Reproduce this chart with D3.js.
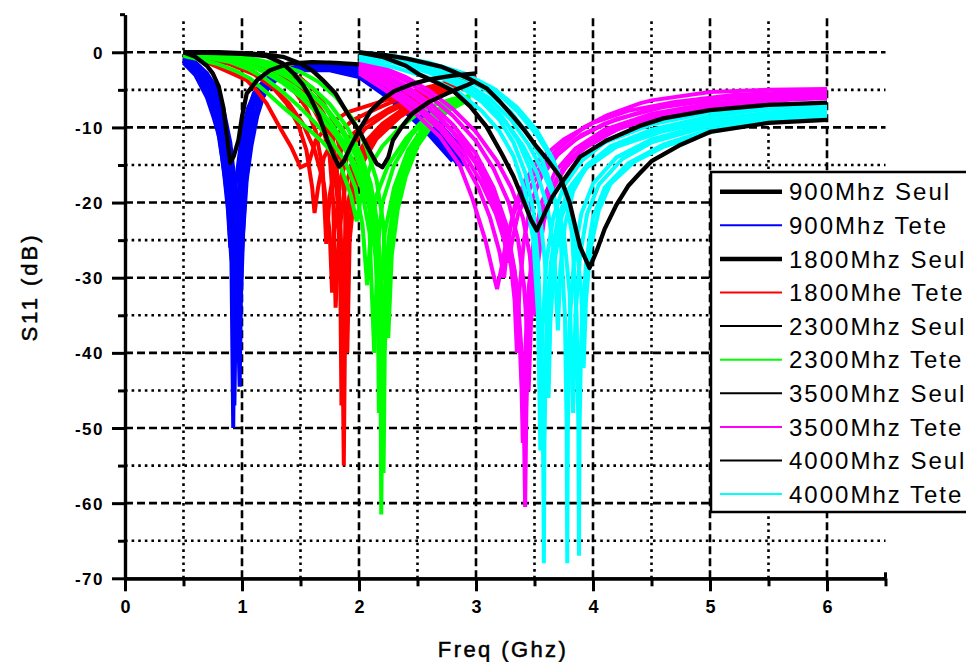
<!DOCTYPE html>
<html><head><meta charset="utf-8">
<script src="https://cdn.jsdelivr.net/npm/d3@7"></script>
<style>
html,body{margin:0;padding:0;background:#fff;}
svg{display:block;}
text{font-family:"Liberation Sans",Arial,sans-serif;fill:#000;}
</style></head>
<body><svg id="c" width="966" height="662"></svg>
<script>
// ---------------- DATA ----------------
const xTicks = [0, 1, 2, 3, 4, 5, 6];
const xMinor = [0.5, 1.5, 2.5, 3.5, 4.5, 5.5, 6.5];
const yTicks = [0, -10, -20, -30, -40, -50, -60, -70];
const yMinor = [-5, -15, -25, -35, -45, -55, -65];
const xTitle = "Freq (Ghz)";
const yTitle = "S11 (dB)";
const legendLabels = ["900Mhz Seul","900Mhz Tete","1800Mhz Seul","1800Mhe Tete","2300Mhz Seul","2300Mhz Tete","3500Mhz Seul","3500Mhz Tete","4000Mhz Seul","4000Mhz Tete"];

// "Seul" curves: [freq GHz, S11 dB]
const seul900 = [[0.5,0],[0.6,-0.6],[0.7,-1.8],[0.75,-2.8],[0.8,-4.5],[0.84,-7.3],[0.87,-11],[0.9,-14.7],[0.93,-13.8],[0.97,-11.7],[1.0,-8.6],[1.04,-5.5],[1.13,-3.7],[1.24,-2.4],[1.4,-1.5],[1.6,-1.3],[1.8,-1.4],[2.0,-1.6]];
const seul1800 = [[0.5,0],[0.8,-0.1],[1.0,-0.2],[1.21,-0.5],[1.35,-1.5],[1.44,-2.8],[1.52,-4.3],[1.58,-5.9],[1.66,-8.5],[1.73,-11.7],[1.79,-14],[1.83,-15.2],[1.87,-14.5],[1.93,-12.5],[2.0,-10.4],[2.1,-7.8],[2.2,-6.3],[2.3,-5.2],[2.46,-4.2],[2.6,-3.6],[2.8,-3.1],[3.0,-2.8]];
const seul2300 = [[0.5,0],[0.8,0],[1.0,-0.1],[1.2,-0.3],[1.35,-0.6],[1.5,-1.5],[1.6,-2.4],[1.69,-3.7],[1.8,-5.5],[1.92,-8.6],[2.0,-10.4],[2.08,-12.8],[2.15,-14.8],[2.2,-15.3],[2.25,-14],[2.29,-11.7],[2.38,-9.6],[2.46,-8.1],[2.6,-6.6],[2.75,-5.5],[2.92,-4.4],[3.0,-3.8]];
const seul3500 = [[2.0,0],[2.2,-0.6],[2.4,-1.8],[2.52,-3.0],[2.7,-4.3],[2.81,-5.2],[2.95,-7.2],[3.09,-9.9],[3.22,-13.5],[3.32,-16.5],[3.4,-19.5],[3.47,-22.3],[3.52,-23.7],[3.57,-22],[3.65,-19.3],[3.73,-17.4],[3.89,-13.9],[4.12,-11.7],[4.4,-9.8],[4.6,-8.8],[5.0,-7.7],[5.5,-7.0],[6.0,-6.7]];
const seul4000 = [[2.0,0],[2.2,-0.3],[2.4,-0.8],[2.52,-1.25],[2.7,-1.9],[2.81,-2.6],[2.95,-3.6],[3.09,-4.8],[3.2,-6.5],[3.32,-8.6],[3.42,-10.5],[3.52,-12.6],[3.62,-14.5],[3.72,-16.6],[3.8,-20],[3.89,-25.9],[3.97,-28.7],[4.03,-26.5],[4.1,-23.5],[4.2,-20.3],[4.3,-17.8],[4.4,-16.1],[4.5,-14.5],[4.75,-12.3],[5.0,-10.6],[5.5,-9.4],[6.0,-9.0]];

// "Tete" curve families
const tete900 = [
 [[0.5,-1.2],[0.6,-2.6],[0.7,-5.2],[0.78,-9],[0.84,-15],[0.88,-20],[0.91,-28],[0.925,-50],[0.935,-32],[0.96,-21],[1.0,-13],[1.04,-8.5],[1.1,-5.5],[1.2,-3.6],[1.35,-2.4],[1.5,-1.8],[1.75,-1.4],[2.0,-1.8],[2.2,-3.0],[2.4,-5.0],[2.6,-8.0],[2.8,-11.5],[2.9,-13]],
 [[0.5,-0.9],[0.6,-2.2],[0.7,-4.5],[0.78,-7.8],[0.84,-12.5],[0.88,-17],[0.92,-27],[0.935,-47],[0.95,-30],[0.98,-20],[1.02,-13],[1.06,-9],[1.12,-6],[1.2,-4.2],[1.35,-2.8],[1.5,-2.0],[1.75,-1.6],[2.0,-2.2],[2.2,-3.6],[2.4,-6.0],[2.6,-9.0],[2.8,-12.5],[2.9,-14]],
 [[0.5,-0.7],[0.6,-1.8],[0.7,-3.8],[0.78,-6.5],[0.84,-10],[0.9,-16],[0.95,-26],[0.98,-44.5],[0.995,-28],[1.03,-18],[1.07,-12],[1.12,-8],[1.2,-5.2],[1.3,-3.5],[1.5,-2.2],[1.75,-1.8],[2.0,-2.6],[2.2,-4.2],[2.4,-6.8],[2.6,-10],[2.8,-13.5],[2.9,-15]],
 [[0.5,-0.5],[0.6,-1.5],[0.7,-3.2],[0.78,-5.5],[0.84,-8.8],[0.9,-14],[0.94,-24],[0.96,-40],[0.975,-27],[1.01,-16],[1.05,-10.5],[1.1,-7],[1.2,-4.6],[1.3,-3.2],[1.5,-2.1],[1.75,-2.0],[2.0,-3.0],[2.2,-5],[2.4,-7.5],[2.6,-10.5],[2.75,-13],[2.85,-15]],
 [[0.5,-1.4],[0.6,-3.0],[0.7,-6.0],[0.76,-8.8],[0.81,-11.5],[0.85,-16.5],[0.88,-21],[0.9,-26],[0.92,-22],[0.95,-17],[1.0,-11],[1.05,-7.5],[1.12,-5],[1.2,-3.6],[1.35,-2.5],[1.5,-1.9],[1.75,-1.5],[2.0,-2.0],[2.2,-3.3],[2.4,-5.4],[2.6,-8.6],[2.8,-12],[2.9,-13.5]],
 [[0.5,-0.5],[0.6,-1.3],[0.7,-2.8],[0.78,-4.8],[0.84,-7.5],[0.9,-12],[0.95,-19],[0.99,-33],[1.01,-24],[1.04,-17],[1.08,-12.5],[1.13,-8.5],[1.18,-6],[1.24,-4.3],[1.3,-3.5],[1.5,-2.4],[1.75,-2.4],[2.0,-3.3],[2.2,-5.5],[2.4,-8],[2.6,-11],[2.8,-14.5]],
 [[0.5,-0.8],[0.6,-2.0],[0.7,-4.2],[0.78,-7.2],[0.84,-11.5],[0.89,-17],[0.93,-25],[0.945,-36],[0.96,-26],[0.99,-18],[1.03,-12],[1.08,-8],[1.15,-5.2],[1.25,-3.5],[1.4,-2.4],[1.5,-2.0],[1.75,-1.7],[2.0,-2.4],[2.2,-4.0],[2.4,-6.4],[2.6,-9.4],[2.8,-13],[2.9,-14.5]],
 [[0.5,-0.6],[0.6,-1.6],[0.7,-3.5],[0.78,-6.0],[0.84,-9.5],[0.89,-14.5],[0.93,-21],[0.965,-30],[0.99,-22],[1.03,-15],[1.08,-10],[1.14,-6.8],[1.2,-5],[1.28,-3.8],[1.4,-2.8],[1.6,-2.1],[1.8,-2.0],[2.0,-2.8],[2.2,-4.6],[2.4,-7.2],[2.6,-10.2],[2.8,-13.8]]
];
const tete1800 = [
 [[0.5,-0.3],[0.6,-0.6],[0.75,-1.7],[0.9,-2.7],[1.04,-3.7],[1.12,-5.0],[1.21,-6.8],[1.32,-9.9],[1.42,-12.6],[1.5,-15.3],[1.57,-14.8],[1.63,-11.7],[1.75,-9.5],[1.9,-8.0],[2.1,-7.0],[2.3,-6.0],[2.5,-5.0],[2.7,-4.2],[2.9,-3.5],[3.0,-3.2]],
 [[0.5,-0.2],[0.7,-0.6],[0.9,-1.3],[1.1,-2.6],[1.25,-4.4],[1.38,-6.8],[1.48,-9.6],[1.55,-13],[1.6,-18],[1.62,-21.4],[1.65,-18],[1.7,-14],[1.8,-11],[1.95,-9],[2.15,-7.5],[2.4,-5.8],[2.6,-4.8],[2.8,-3.9],[3.0,-3.1]],
 [[0.5,-0.1],[0.7,-0.4],[0.9,-0.9],[1.1,-1.8],[1.3,-3.2],[1.45,-5.2],[1.55,-7.4],[1.63,-10.5],[1.69,-15.5],[1.72,-25.5],[1.75,-19],[1.8,-14.5],[1.9,-11.5],[2.05,-9.5],[2.25,-7.6],[2.45,-6.2],[2.7,-4.6],[2.85,-3.8],[3.0,-3.0]],
 [[0.5,0],[0.7,-0.3],[0.9,-0.7],[1.1,-1.3],[1.3,-2.4],[1.45,-3.8],[1.58,-6],[1.68,-9],[1.75,-14],[1.78,-20],[1.8,-34],[1.83,-24],[1.88,-18],[1.95,-14.5],[2.05,-12],[2.2,-9.5],[2.4,-7.3],[2.6,-5.6],[2.8,-4.3],[3.0,-3.3]],
 [[0.5,-0.2],[0.7,-0.5],[0.9,-0.9],[1.1,-1.5],[1.3,-2.6],[1.45,-3.9],[1.58,-5.8],[1.7,-8.8],[1.78,-12.5],[1.83,-18],[1.85,-27],[1.86,-40],[1.87,-55],[1.88,-38],[1.9,-26],[1.95,-19],[2.02,-14.5],[2.15,-11],[2.35,-8.2],[2.6,-6],[2.8,-4.6],[3.0,-3.5]],
 [[0.5,-0.1],[0.7,-0.4],[0.9,-0.8],[1.1,-1.4],[1.3,-2.4],[1.45,-3.6],[1.58,-5.4],[1.7,-8.2],[1.78,-12],[1.82,-17],[1.84,-30],[1.85,-47],[1.865,-30],[1.89,-22],[1.95,-16],[2.05,-12.5],[2.2,-9.8],[2.4,-7.6],[2.6,-5.8],[2.8,-4.5],[3.0,-3.4]],
 [[0.5,0],[0.7,-0.2],[0.9,-0.6],[1.1,-1.1],[1.3,-2.0],[1.5,-3.4],[1.65,-5.5],[1.76,-8.5],[1.84,-13],[1.88,-20],[1.9,-40],[1.92,-25],[1.96,-19],[2.02,-15],[2.15,-11.5],[2.35,-8.6],[2.55,-6.6],[2.75,-5],[3.0,-3.6]],
 [[0.5,-0.4],[0.7,-0.8],[0.9,-1.6],[1.1,-2.9],[1.25,-4.5],[1.4,-6.8],[1.52,-9.5],[1.62,-13],[1.7,-17.5],[1.75,-24],[1.77,-32],[1.79,-24],[1.84,-17],[1.92,-13],[2.05,-10.2],[2.25,-8],[2.5,-6],[2.75,-4.4],[3.0,-3.2]],
 [[0.5,-0.1],[0.7,-0.3],[0.9,-0.8],[1.1,-1.6],[1.3,-2.9],[1.45,-4.4],[1.58,-6.6],[1.68,-9.6],[1.76,-13.5],[1.81,-18.5],[1.84,-25],[1.855,-36],[1.875,-27],[1.91,-20],[1.97,-15.5],[2.08,-12],[2.25,-9.2],[2.45,-7.1],[2.7,-5.2],[3.0,-3.7]]
];
const tete2300 = [
 [[0.5,-0.5],[0.65,-1],[0.8,-1.6],[0.95,-2.5],[1.07,-3.5],[1.2,-5.2],[1.35,-7.3],[1.48,-9],[1.58,-10.4],[1.68,-11.8],[1.75,-13],[1.85,-15.5],[1.93,-19],[1.98,-22.5],[2.02,-19],[2.1,-15],[2.2,-12.5],[2.35,-10],[2.5,-8.2],[2.65,-7],[2.8,-6.2],[2.95,-5.8]],
 [[0.5,-0.3],[0.7,-0.7],[0.9,-1.3],[1.05,-2.2],[1.2,-3.5],[1.35,-5.3],[1.5,-7.4],[1.62,-9.3],[1.75,-11.5],[1.88,-14.5],[1.97,-18],[2.03,-23],[2.07,-31],[2.1,-24],[2.15,-19],[2.25,-15],[2.4,-11.5],[2.55,-9],[2.7,-7.3],[2.85,-6.3],[2.95,-5.8]],
 [[0.5,-0.2],[0.7,-0.5],[0.9,-1.0],[1.05,-1.7],[1.2,-2.7],[1.35,-4.1],[1.5,-5.9],[1.65,-8.2],[1.8,-11],[1.92,-14],[2.02,-18],[2.09,-24],[2.13,-40],[2.16,-26],[2.2,-20],[2.3,-15],[2.45,-11],[2.6,-8.6],[2.75,-7],[2.9,-6]],
 [[0.5,0],[0.7,-0.3],[0.9,-0.7],[1.1,-1.3],[1.25,-2.1],[1.4,-3.3],[1.55,-4.9],[1.7,-7.0],[1.85,-10],[1.98,-13.5],[2.07,-17.5],[2.13,-23],[2.16,-32],[2.17,-48],[2.185,-33],[2.22,-24],[2.3,-18],[2.42,-13],[2.55,-10],[2.7,-8],[2.85,-6.6],[2.95,-6]],
 [[0.5,-0.1],[0.7,-0.4],[0.9,-0.8],[1.1,-1.4],[1.25,-2.2],[1.4,-3.4],[1.55,-5],[1.7,-7.2],[1.85,-10.4],[1.98,-14],[2.08,-18.5],[2.14,-24],[2.17,-33],[2.185,-45],[2.19,-61.5],[2.2,-45],[2.22,-32],[2.26,-24],[2.33,-18],[2.45,-13],[2.6,-9.8],[2.75,-7.8],[2.9,-6.5]],
 [[0.5,-0.2],[0.7,-0.3],[0.9,-0.6],[1.1,-1.1],[1.3,-2.0],[1.45,-3.1],[1.6,-4.7],[1.75,-6.9],[1.9,-10],[2.02,-13.8],[2.1,-17.5],[2.16,-23],[2.19,-31],[2.205,-42],[2.21,-56],[2.22,-40],[2.245,-29],[2.29,-22],[2.36,-17],[2.48,-12.5],[2.62,-9.6],[2.78,-7.6],[2.9,-6.6]],
 [[0.5,0],[0.7,-0.2],[0.9,-0.5],[1.1,-0.9],[1.3,-1.6],[1.5,-2.6],[1.65,-3.9],[1.8,-5.9],[1.95,-9],[2.06,-12.5],[2.15,-17],[2.21,-23],[2.25,-38],[2.28,-27],[2.33,-21],[2.4,-16.5],[2.5,-12.5],[2.62,-9.8],[2.76,-7.8],[2.9,-6.6]],
 [[0.5,-0.3],[0.7,-0.6],[0.9,-1.1],[1.1,-1.9],[1.28,-3.0],[1.45,-4.6],[1.6,-6.6],[1.75,-9.2],[1.88,-12.2],[1.99,-15.8],[2.08,-20],[2.14,-27],[2.18,-38],[2.195,-52],[2.205,-38],[2.24,-27],[2.3,-20],[2.4,-14.5],[2.52,-10.8],[2.68,-8.2],[2.82,-6.9],[2.95,-6.2]]
];
const tete3500 = [
 [[2.0,-2.8],[2.1,-3.8],[2.2,-4.8],[2.35,-6.4],[2.5,-8.4],[2.69,-11.2],[2.86,-15],[2.97,-19.5],[3.08,-25],[3.14,-29],[3.18,-31.5],[3.22,-28.5],[3.26,-25],[3.32,-21.5],[3.45,-17],[3.6,-14.5],[3.69,-13],[3.92,-10],[4.12,-8.4],[4.4,-6.8],[4.5,-6.4],[5.0,-5.3],[5.5,-5.0],[6.0,-4.9]],
 [[2.0,-2.2],[2.15,-3.4],[2.3,-4.8],[2.5,-7],[2.7,-9.8],[2.9,-13.5],[3.05,-17.5],[3.17,-21.5],[3.24,-25],[3.28,-28],[3.31,-25],[3.36,-21.5],[3.48,-17.5],[3.65,-14.2],[3.85,-11.6],[4.1,-9.5],[4.5,-7.5],[5.0,-6.2],[5.5,-5.6],[6.0,-5.3]],
 [[2.0,-1.8],[2.15,-2.9],[2.3,-4.2],[2.5,-6.2],[2.7,-8.8],[2.9,-12.2],[3.05,-15.8],[3.18,-20],[3.28,-25],[3.35,-31],[3.39,-40],[3.41,-50],[3.42,-60.5],[3.43,-48],[3.45,-36],[3.5,-27],[3.57,-21],[3.7,-16.5],[3.9,-13],[4.2,-10.3],[4.6,-8.3],[5.0,-7.2],[5.5,-6.4],[6.0,-5.9]],
 [[2.0,-1.5],[2.2,-2.8],[2.4,-4.4],[2.6,-6.7],[2.8,-9.6],[3.0,-13.5],[3.15,-18],[3.26,-23],[3.33,-29],[3.37,-37],[3.39,-45],[3.4,-52],[3.41,-44],[3.44,-33],[3.49,-25.5],[3.56,-20],[3.68,-15.8],[3.85,-12.8],[4.1,-10.3],[4.5,-8.2],[5.0,-6.8],[5.5,-6.1],[6.0,-5.6]],
 [[2.0,-1.2],[2.2,-2.3],[2.4,-3.8],[2.6,-5.8],[2.8,-8.4],[3.0,-11.8],[3.15,-15.5],[3.28,-20],[3.36,-25],[3.41,-31],[3.44,-38],[3.45,-45],[3.47,-36],[3.5,-29],[3.55,-23],[3.63,-18.5],[3.76,-15],[3.95,-12],[4.2,-9.9],[4.6,-8],[5.1,-6.8],[5.6,-6.1],[6.0,-5.8]],
 [[2.0,-1.0],[2.2,-2.0],[2.4,-3.3],[2.6,-5.1],[2.8,-7.5],[3.0,-10.6],[3.18,-14.5],[3.3,-18],[3.4,-22],[3.46,-27],[3.5,-35],[3.53,-28],[3.58,-22.5],[3.66,-18],[3.8,-14.5],[4.0,-11.8],[4.3,-9.6],[4.7,-8],[5.2,-6.9],[5.7,-6.3],[6.0,-6.1]],
 [[2.0,-2.0],[2.2,-3.3],[2.4,-5.0],[2.6,-7.4],[2.8,-10.6],[3.0,-14.8],[3.13,-19],[3.23,-23.5],[3.3,-28.5],[3.33,-33],[3.35,-40],[3.37,-32],[3.41,-25],[3.47,-20],[3.56,-16.5],[3.7,-13.6],[3.9,-11],[4.2,-8.9],[4.6,-7.3],[5.1,-6.2],[5.6,-5.6],[6.0,-5.4]],
 [[2.0,-2.5],[2.15,-3.7],[2.3,-5.2],[2.5,-7.6],[2.7,-10.4],[2.88,-14],[3.02,-18],[3.12,-22],[3.2,-26.5],[3.24,-30],[3.27,-25.5],[3.33,-20.5],[3.42,-17],[3.55,-14.2],[3.75,-11.6],[4.0,-9.4],[4.3,-7.8],[4.7,-6.6],[5.2,-5.7],[5.7,-5.3],[6.0,-5.1]]
];
const tete4000 = [
 [[2.0,-0.6],[2.3,-1.4],[2.6,-2.7],[2.85,-4.4],[3.05,-6.6],[3.2,-9],[3.32,-12],[3.42,-16],[3.49,-21],[3.53,-28],[3.56,-40],[3.575,-55],[3.58,-68],[3.585,-52],[3.6,-38],[3.64,-28],[3.7,-22],[3.8,-18],[3.95,-15],[4.2,-12.3],[4.6,-10.2],[5.0,-9.0],[5.5,-8.0],[6.0,-7.4]],
 [[2.0,-1.0],[2.3,-2.0],[2.6,-3.4],[2.85,-5.3],[3.05,-7.8],[3.2,-10.5],[3.32,-13.8],[3.42,-18.5],[3.49,-25],[3.53,-35],[3.55,-53],[3.565,-38],[3.6,-28],[3.66,-22],[3.75,-17.8],[3.9,-14.5],[4.1,-12],[4.5,-9.6],[5.0,-8.0],[5.5,-7.2],[6.0,-6.7]],
 [[2.0,-0.3],[2.3,-1.0],[2.6,-2.2],[2.85,-3.8],[3.05,-5.8],[3.22,-8.5],[3.36,-11.8],[3.46,-15.5],[3.54,-20.5],[3.59,-28],[3.61,-37],[3.62,-46],[3.635,-36],[3.67,-28],[3.73,-22],[3.82,-18],[3.95,-15.3],[4.2,-12.6],[4.6,-10.5],[5.0,-9.2],[5.5,-8.3],[6.0,-7.7]],
 [[2.0,-0.2],[2.3,-0.8],[2.6,-1.8],[2.9,-3.4],[3.1,-5.2],[3.3,-8],[3.45,-11],[3.57,-14.5],[3.66,-18.5],[3.72,-24],[3.76,-35],[3.775,-50],[3.78,-68],[3.785,-50],[3.8,-36],[3.84,-27],[3.9,-21.5],[4.0,-17.5],[4.2,-14],[4.5,-11.6],[5.0,-9.5],[5.5,-8.4],[6.0,-7.8]],
 [[2.0,0],[2.3,-0.5],[2.6,-1.4],[2.9,-2.8],[3.15,-4.8],[3.35,-7.3],[3.52,-10.4],[3.65,-14],[3.75,-18],[3.82,-24],[3.86,-35],[3.875,-50],[3.88,-67],[3.885,-50],[3.9,-38],[3.94,-28],[4.0,-22],[4.1,-18],[4.3,-14.8],[4.6,-12.3],[5.0,-10.3],[5.5,-9.0],[6.0,-8.3]],
 [[2.0,-0.4],[2.3,-1.1],[2.6,-2.3],[2.9,-4.0],[3.12,-6.2],[3.3,-9],[3.45,-12.3],[3.57,-15.8],[3.67,-19.5],[3.75,-24],[3.8,-32],[3.83,-48],[3.85,-35],[3.89,-27],[3.95,-21.5],[4.05,-17.6],[4.25,-14.2],[4.5,-12],[5.0,-9.8],[5.5,-8.6],[6.0,-8.0]],
 [[2.0,-0.1],[2.3,-0.6],[2.6,-1.5],[2.9,-3.0],[3.15,-5],[3.35,-7.8],[3.52,-11],[3.66,-14.5],[3.77,-18.5],[3.85,-24],[3.9,-32],[3.92,-42],[3.94,-33],[3.98,-26],[4.05,-21],[4.15,-17.5],[4.35,-14.6],[4.6,-12.6],[5.0,-10.6],[5.5,-9.2],[6.0,-8.6]],
 [[2.0,-0.5],[2.3,-1.2],[2.6,-2.5],[2.85,-4.1],[3.05,-6.2],[3.25,-9.2],[3.4,-12.4],[3.52,-16],[3.61,-20.5],[3.67,-27],[3.7,-37],[3.72,-29],[3.76,-23],[3.83,-18.5],[3.95,-15],[4.15,-12.5],[4.5,-10.3],[5.0,-8.5],[5.5,-7.5],[6.0,-7.0]]
];

// ---------------- STYLE / LAYOUT ----------------
const families = [
  {curves: tete900,  color: "#0000ff"},
  {curves: tete1800, color: "#ff0000"},
  {curves: tete2300, color: "#00ff00"},
  {curves: tete3500, color: "#ff00ff"},
  {curves: tete4000, color: "#00ffff"}
];
const seulCurves = [seul900, seul1800, seul2300, seul3500, seul4000];
const legendStyle = [
  {color:"#000", w:4.5},{color:"#0000ff", w:2},{color:"#000", w:4.5},{color:"#ff0000", w:2},
  {color:"#000", w:2},{color:"#00ff00", w:2},{color:"#000", w:2},{color:"#ff00ff", w:2},
  {color:"#000", w:2},{color:"#00ffff", w:2}
];

const svg = d3.select("#c");
const x = d3.scaleLinear().domain([0, 6.5]).range([125, 885.5]);
const y = d3.scaleLinear().domain([-70, 5]).range([578.3, 14.7]);

// grid
const grid = svg.append("g");
grid.selectAll(".hmaj").data(yTicks.filter(d => d !== -70)).join("line")
  .attr("x1", x(0)).attr("x2", x(6.5)).attr("y1", d => y(d)).attr("y2", d => y(d))
  .attr("stroke", "#000").attr("stroke-width", 2.6).attr("stroke-dasharray", "8,4");
grid.selectAll(".hmin").data(yMinor).join("line")
  .attr("x1", x(0)).attr("x2", x(6.5)).attr("y1", d => y(d)).attr("y2", d => y(d))
  .attr("stroke", "#000").attr("stroke-width", 2.6).attr("stroke-dasharray", "2.6,4");
grid.selectAll(".vmaj").data(xTicks.filter(d => d !== 0)).join("line")
  .attr("y1", y(-70)).attr("y2", y(5)).attr("x1", d => x(d)).attr("x2", d => x(d))
  .attr("stroke", "#000").attr("stroke-width", 2.6).attr("stroke-dasharray", "8,4");
grid.selectAll(".vmin").data(xMinor.filter(d => d < 6.5)).join("line")
  .attr("y1", y(-70)).attr("y2", y(4.3)).attr("x1", d => x(d)).attr("x2", d => x(d))
  .attr("stroke", "#000").attr("stroke-width", 2.6).attr("stroke-dasharray", "2.6,4");

// curves
svg.append("clipPath").attr("id", "clip").append("rect")
  .attr("x", x(0)).attr("y", y(5)).attr("width", x(6.5) - x(0)).attr("height", y(-70) - y(5));
const line = d3.line().x(d => x(d[0])).y(d => y(d[1]));
const plot = svg.append("g").attr("clip-path", "url(#clip)");
families.forEach(f => {
  plot.append("g").selectAll("path").data(f.curves).join("path")
    .attr("d", line).attr("fill", "none").attr("stroke", f.color)
    .attr("stroke-width", 4).attr("stroke-linejoin", "miter").attr("stroke-miterlimit", 3);
});
plot.append("g").selectAll("path").data(seulCurves).join("path")
  .attr("d", line).attr("fill", "none").attr("stroke", "#000")
  .attr("stroke-width", 4.3).attr("stroke-linejoin", "round");

// axes
const fmt = d => String(d);
const ax = svg.append("g").attr("transform", `translate(${x(0)},0)`)
  .call(d3.axisLeft(y).tickValues(yTicks).tickSize(13).tickSizeOuter(0).tickFormat(fmt));
const axm = svg.append("g").attr("transform", `translate(${x(0)},0)`)
  .call(d3.axisLeft(y).tickValues(yMinor).tickSize(7).tickSizeOuter(0).tickFormat(""));
const bx = svg.append("g").attr("transform", `translate(0,${y(-70)})`)
  .call(d3.axisBottom(x).tickValues(xTicks).tickSize(13).tickSizeOuter(0).tickFormat(fmt));
const bxm = svg.append("g").attr("transform", `translate(0,${y(-70)})`)
  .call(d3.axisBottom(x).tickValues(xMinor).tickSize(8).tickSizeOuter(0).tickFormat(""));
[ax, axm, bx, bxm].forEach(g => {
  g.selectAll("path.domain").attr("stroke", "#000").attr("stroke-width", 3.2);
  g.selectAll(".tick line").attr("stroke", "#000").attr("stroke-width", 3);
});
ax.selectAll(".tick text").attr("x", -21).attr("dy", "0.36em")
  .style("font-size", "17px").style("font-weight", "bold").style("letter-spacing", "1.5px")
  .style("font-family", "'Liberation Sans',Arial,sans-serif");
bx.selectAll(".tick text").attr("y", 22).attr("dy", "0.71em")
  .style("font-size", "18px").style("font-weight", "bold")
  .style("font-family", "'Liberation Sans',Arial,sans-serif");
// end-cap ticks
svg.append("line").attr("x1", x(0) - 5).attr("x2", x(0)).attr("y1", y(5)).attr("y2", y(5))
  .attr("stroke", "#000").attr("stroke-width", 3);
svg.append("line").attr("x1", x(6.5)).attr("x2", x(6.5)).attr("y1", y(-70)).attr("y2", y(-70) - 6)
  .attr("stroke", "#000").attr("stroke-width", 3);

// titles
svg.append("text").attr("x", 503).attr("y", 657).attr("text-anchor", "middle")
  .style("font-size", "22px").style("letter-spacing", "2.4px").style("stroke", "#000").style("stroke-width", "0.5px").text(xTitle);
svg.append("text").attr("transform", "translate(37,287) rotate(-90)").attr("text-anchor", "middle")
  .style("font-size", "22px").style("letter-spacing", "3px").style("stroke", "#000").style("stroke-width", "0.5px").text(yTitle);

// legend
const lg = svg.append("g");
lg.append("rect").attr("x", 711).attr("y", 172).attr("width", 270).attr("height", 340)
  .attr("fill", "#fff").attr("stroke", "#000").attr("stroke-width", 2.5);
legendLabels.forEach((lab, i) => {
  const cy = 191.7 + i * 33.6;
  lg.append("line").attr("x1", 720).attr("x2", 782).attr("y1", cy).attr("y2", cy)
    .attr("stroke", legendStyle[i].color).attr("stroke-width", legendStyle[i].w);
  lg.append("text").attr("x", 789).attr("y", cy + 8.6)
    .style("font-size", "24px").style("letter-spacing", "2px").text(lab);
});
</script></body></html>
